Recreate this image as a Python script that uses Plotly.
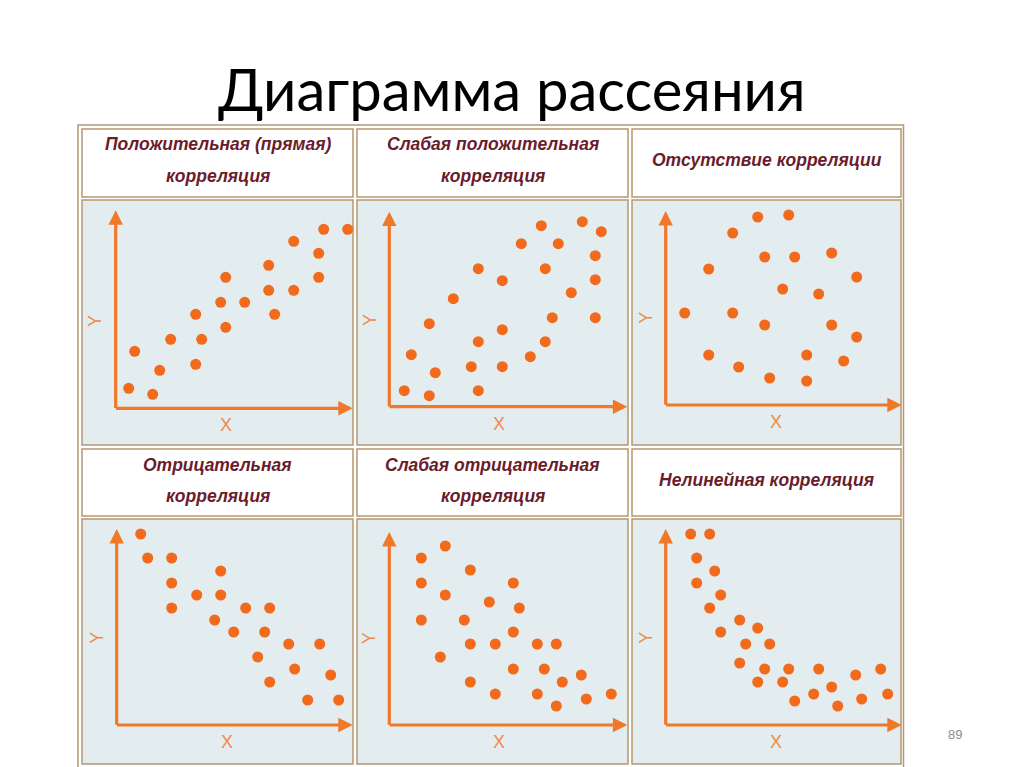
import plotly.graph_objects as go

W, H = 1024, 767

# ---------------- data (arbitrary units) ----------------
titles = [
    ["Положительная (прямая)", "корреляция"],
    ["Слабая положительная", "корреляция"],
    ["Отсутствие корреляции"],
    ["Отрицательная", "корреляция"],
    ["Слабая отрицательная", "корреляция"],
    ["Нелинейная корреляция"],
]
axis_labels = ["X", "Y"]
page_number = "89"
main_title = "Диаграмма рассеяния"

p1_x = [1.3, 3.7, 1.9, 4.4, 5.5, 8.0, 8.6, 8.0, 10.5, 11.0, 11.0, 12.9, 15.3, 15.9, 15.3, 17.8, 17.8, 20.3, 20.3, 20.8, 23.2]
p1_y = [2.0, 1.4, 5.7, 3.8, 6.9, 4.4, 6.9, 9.4, 10.6, 8.1, 13.1, 10.6, 11.8, 9.4, 14.3, 11.8, 16.7, 13.1, 15.5, 17.9, 17.9]

p2_x = [1.5, 4.0, 2.2, 4.6, 4.0, 6.4, 8.9, 8.2, 8.9, 8.9, 11.3, 11.3, 11.3, 13.2, 14.1, 15.2, 15.6, 15.6, 16.3, 16.9, 18.2, 19.3, 20.6, 20.6, 20.6, 21.2]
p2_y = [1.6, 1.1, 5.2, 3.4, 8.3, 10.8, 1.6, 4.0, 6.5, 13.8, 4.0, 7.7, 12.6, 16.3, 5.0, 18.1, 13.8, 6.5, 8.9, 16.3, 11.4, 18.5, 15.1, 12.7, 8.9, 17.5]

p3_x = [1.9, 4.3, 4.3, 6.7, 6.7, 7.3, 9.2, 9.9, 9.9, 10.4, 12.3, 11.7, 12.9, 14.1, 14.1, 15.3, 16.6, 16.6, 17.8, 19.1, 19.1]
p3_y = [9.2, 13.6, 5.0, 17.2, 9.2, 3.8, 18.8, 14.8, 8.0, 2.7, 19.0, 11.6, 14.8, 5.0, 2.4, 11.1, 15.2, 8.0, 4.4, 12.8, 6.8]

p4_x = [2.4, 3.1, 5.5, 5.5, 5.5, 8.0, 10.4, 10.4, 9.8, 11.7, 12.9, 15.3, 14.8, 17.2, 20.3, 14.1, 17.8, 15.3, 21.4, 19.1, 22.2]
p4_y = [19.1, 16.7, 16.7, 14.2, 11.7, 13.0, 15.4, 13.0, 10.5, 9.3, 11.7, 11.7, 9.3, 8.1, 8.1, 6.8, 5.6, 4.3, 5.0, 2.5, 2.5]

p5_x = [3.2, 5.6, 3.2, 5.6, 8.1, 3.2, 7.5, 10.0, 12.4, 13.0, 8.1, 10.6, 12.4, 5.1, 14.8, 16.7, 12.4, 15.5, 8.1, 10.6, 14.8, 17.3, 19.2, 16.7, 19.7, 22.2]
p5_y = [16.7, 17.9, 14.2, 13.0, 15.5, 10.5, 10.5, 12.3, 14.2, 11.7, 8.1, 8.1, 9.3, 6.8, 8.1, 8.1, 5.6, 5.6, 4.3, 3.1, 3.1, 4.3, 5.0, 1.9, 2.6, 3.1]

p6_x = [2.5, 4.4, 3.1, 4.9, 3.1, 5.5, 4.4, 5.5, 7.4, 9.2, 8.0, 10.4, 7.4, 9.9, 12.3, 9.2, 11.7, 15.3, 12.9, 14.8, 16.6, 17.2, 19.0, 19.6, 21.5, 22.2]
p6_y = [19.1, 19.1, 16.7, 15.4, 14.2, 13.0, 11.7, 9.3, 10.5, 9.7, 8.1, 8.1, 6.2, 5.6, 5.6, 4.3, 4.3, 5.6, 2.4, 3.1, 3.8, 1.9, 5.0, 2.6, 5.6, 3.1]

axis_len_x = [23.7, 23.8, 23.6, 23.6, 23.8, 23.6]
axis_len_y = [19.8, 19.5, 19.4, 19.6, 19.3, 19.6]

xs = [p1_x, p2_x, p3_x, p4_x, p5_x, p6_x]
ys = [p1_y, p2_y, p3_y, p4_y, p5_y, p6_y]

# ---------------- layout geometry (pixels) and styles ----------------
COLS = [(82, 353), (357, 628), (632, 901)]
HEAD_ROWS = [(129, 197), (449, 516)]
PLOT_ROWS = [(200, 445), (519, 764)]
ORIGINS = [(115.7, 408.3), (389.3, 406.7), (665.7, 405.0),
           (116.7, 725.0), (389.3, 725.0), (665.7, 725.0)]
SCALE = 10.0  # pixels per data unit

DOT = "#F26A1B"
AXC = "#F07828"
LBL = "#F08A4A"
BG = "#E3ECEF"
BORDER = "#B8976F"
TXT = "#6A1C2C"


def px(x):
    return x / W


def py(y):
    return 1 - y / H


fig = go.Figure()
layout_axes = {}
shapes = []
annotations = []

# outer table frame
shapes.append(dict(type="rect", xref="paper", yref="paper",
                   x0=px(78), x1=px(903.5), y0=py(770), y1=py(125),
                   line=dict(color=BORDER, width=1.5), fillcolor="white", layer="below"))

for i in range(6):
    r, c = divmod(i, 3)
    cx0, cx1 = COLS[c]
    hy0, hy1 = HEAD_ROWS[r]
    gy0, gy1 = PLOT_ROWS[r]
    # header cell
    shapes.append(dict(type="rect", xref="paper", yref="paper",
                       x0=px(cx0), x1=px(cx1), y0=py(hy1), y1=py(hy0),
                       line=dict(color=BORDER, width=1.5), fillcolor="white", layer="below"))
    # plot cell
    shapes.append(dict(type="rect", xref="paper", yref="paper",
                       x0=px(cx0), x1=px(cx1), y0=py(gy1), y1=py(gy0),
                       line=dict(color=BORDER, width=1.5), fillcolor=BG, layer="below"))
    # header text
    cxm = (cx0 + cx1) / 2
    lines = titles[i]
    if len(lines) == 2:
        ypos = [hy0 + 15.5, hy0 + 47]
    else:
        ypos = [hy0 + 31]
    for t, yy in zip(lines, ypos):
        annotations.append(dict(xref="paper", yref="paper", x=px(cxm), y=py(yy),
                                text="<b><i>%s</i></b>" % t, showarrow=False,
                                xanchor="center", yanchor="middle",
                                font=dict(family="Liberation Sans, Arial", size=17.5, color=TXT)))

    # subplot axes
    ix0, ix1 = cx0 + 1.5, cx1 - 1.5
    iy0, iy1 = gy0 + 1.5, gy1 - 1.5
    ox, oy = ORIGINS[i]
    sfx = "" if i == 0 else str(i + 1)
    xa = "x" + sfx
    ya = "y" + sfx
    layout_axes["xaxis" + sfx] = dict(domain=[px(ix0), px(ix1)],
                                      range=[(ix0 - ox) / SCALE, (ix1 - ox) / SCALE],
                                      visible=False, fixedrange=True, anchor=ya)
    layout_axes["yaxis" + sfx] = dict(domain=[py(iy1), py(iy0)],
                                      range=[(oy - iy1) / SCALE, (oy - iy0) / SCALE],
                                      visible=False, fixedrange=True, anchor=xa)

    fig.add_trace(go.Scatter(x=xs[i], y=ys[i], mode="markers", xaxis=xa, yaxis=ya,
                             marker=dict(size=11, color=DOT, line=dict(width=0)),
                             cliponaxis=False, showlegend=False, hoverinfo="skip"))

    # arrowed axes
    annotations.append(dict(xref=xa, yref=ya, axref=xa, ayref=ya,
                            x=axis_len_x[i], y=0, ax=-0.12, ay=0, text="",
                            showarrow=True, arrowhead=2, arrowsize=0.9,
                            arrowwidth=3.2, arrowcolor=AXC, standoff=0, startstandoff=0))
    annotations.append(dict(xref=xa, yref=ya, axref=xa, ayref=ya,
                            x=0, y=axis_len_y[i], ax=0, ay=-0.12, text="",
                            showarrow=True, arrowhead=2, arrowsize=0.9,
                            arrowwidth=3.2, arrowcolor=AXC, standoff=0, startstandoff=0))
    annotations.append(dict(xref=xa, yref=ya, x=11.0, y=-1.7, text=axis_labels[0],
                            showarrow=False, font=dict(family="Liberation Sans, Arial", size=18, color=LBL)))
    annotations.append(dict(xref=xa, yref=ya, x=-2.0, y=8.7, text=axis_labels[1],
                            showarrow=False, textangle=-90,
                            font=dict(family="Liberation Sans, Arial", size=18, color=LBL)))

# main title
annotations.append(dict(xref="paper", yref="paper", x=0.5, y=py(88), text=main_title,
                        showarrow=False, xanchor="center", yanchor="middle",
                        font=dict(family="Lato, Noto Sans, sans-serif", size=58, color="black")))
# page number
annotations.append(dict(xref="paper", yref="paper", x=px(955), y=py(734), text=page_number,
                        showarrow=False, xanchor="center", yanchor="middle",
                        font=dict(family="Liberation Sans, Arial", size=13, color="#8C8C8C")))

fig.update_layout(width=W, height=H, margin=dict(l=0, r=0, t=0, b=0),
                  paper_bgcolor="white", plot_bgcolor="rgba(0,0,0,0)",
                  shapes=shapes, annotations=annotations, showlegend=False,
                  **layout_axes)

fig.write_html("out.html", config={"displayModeBar": False})
